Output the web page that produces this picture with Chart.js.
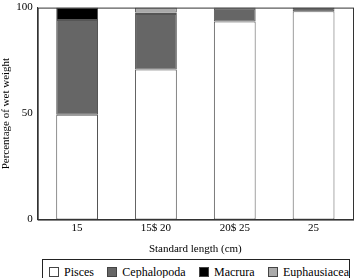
<!DOCTYPE html>
<html lang="en">
<head>
    <meta charset="UTF-8">
    <title>Diet composition by standard length</title>
    <script src="https://cdn.jsdelivr.net/npm/chart.js"></script>
    <style>
        body { margin: 0; background: #fff; overflow: hidden; }
        .wrap { position: relative; width: 354px; height: 278px; }
        .chart-container { width: 354px; height: 258px; }
        #legend {
            position: absolute; left: 42px; top: 259px; width: 300px; height: 24px;
            border: 1px solid #222; padding: 0 0 0 6px;
            display: flex; justify-content: space-between; align-items: center;
            font: 12px 'Liberation Serif', serif; color: #000; white-space: nowrap;
        }
        #legend span.sw {
            display: inline-block; width: 8px; height: 8px; border: 1px solid #444;
            margin-right: 5px; vertical-align: -1px;
        }
    </style>
</head>
<body>
    <div class="wrap">
        <div class="chart-container">
            <canvas id="dietChart"></canvas>
        </div>
        <div id="legend"></div>
    </div>

    <script>
        // data
        const lengthClasses = ['15', '15$ 20', '20$ 25', '25'];
        const pisces = [49.5, 70.8, 93.4, 98.3];
        const cephalopoda = [44.6, 26.2, 6.0, 1.7];
        const macrura = [5.9, 0.7, 0.6, 0];
        const euphausiacea = [0, 2.3, 0, 0];
        const yTicks = [0, 50, 100];

        const serif = "'Liberation Serif', 'DejaVu Serif', serif";

        // frame round the plot
        const frame = {
            id: 'frame',
            afterDraw(chart) {
                const ctx = chart.ctx;
                const a = chart.chartArea;
                ctx.save();
                ctx.strokeStyle = '#333';
                ctx.lineWidth = 1;
                ctx.strokeRect(a.left + 0.5, a.top + 0.5, a.right - a.left, a.bottom - a.top);
                ctx.restore();
            }
        };

        function draw() {
            const ctx = document.getElementById('dietChart').getContext('2d');
            const chart = new Chart(ctx, {
                type: 'bar',
                data: {
                    labels: lengthClasses,
                    datasets: [
                        { label: 'Pisces', data: pisces, backgroundColor: '#ffffff' },
                        { label: 'Cephalopoda', data: cephalopoda, backgroundColor: '#666666' },
                        { label: 'Macrura', data: macrura, backgroundColor: '#000000' },
                        { label: 'Euphausiacea', data: euphausiacea, backgroundColor: '#aaaaaa' }
                    ].map(d => Object.assign(d, {
                        borderColor: '#555',
                        borderWidth: 1,
                        borderSkipped: false,
                        categoryPercentage: 1,
                        barPercentage: 0.53
                    }))
                },
                options: {
                    responsive: true,
                    maintainAspectRatio: false,
                    animation: false,
                    layout: { padding: { top: 5, right: 1, bottom: 0, left: 0 } },
                    plugins: {
                        legend: { display: false },
                        tooltip: { enabled: false }
                    },
                    scales: {
                        x: {
                            stacked: true,
                            grid: { display: false, drawTicks: false },
                            border: { color: '#333' },
                            ticks: { color: '#000', padding: 2, font: { family: serif, size: 11 } },
                            title: {
                                display: true,
                                text: 'Standard length (cm)',
                                color: '#000',
                                font: { family: serif, size: 11 },
                                padding: { top: 6, bottom: 2 }
                            }
                        },
                        y: {
                            stacked: true,
                            min: 0,
                            max: 100,
                            afterBuildTicks: axis => { axis.ticks = yTicks.map(v => ({ value: v })); },
                            grid: { display: false, drawTicks: true, tickLength: 4, tickColor: '#333' },
                            border: { color: '#333' },
                            ticks: { color: '#000', padding: 1, font: { family: serif, size: 11 } },
                            title: {
                                display: true,
                                text: 'Percentage of wet weight',
                                color: '#000',
                                font: { family: serif, size: 11 },
                                padding: { top: 0, bottom: 2 }
                            }
                        }
                    }
                },
                plugins: [frame]
            });

            // legend below the plot, built from the datasets
            const legend = document.getElementById('legend');
            chart.data.datasets.forEach(ds => {
                const item = document.createElement('div');
                const sw = document.createElement('span');
                sw.className = 'sw';
                sw.style.background = ds.backgroundColor;
                item.appendChild(sw);
                item.appendChild(document.createTextNode(ds.label));
                legend.appendChild(item);
            });
        }

        document.fonts.load("11px 'Liberation Serif'").then(draw, draw);
    </script>
</body>
</html>
